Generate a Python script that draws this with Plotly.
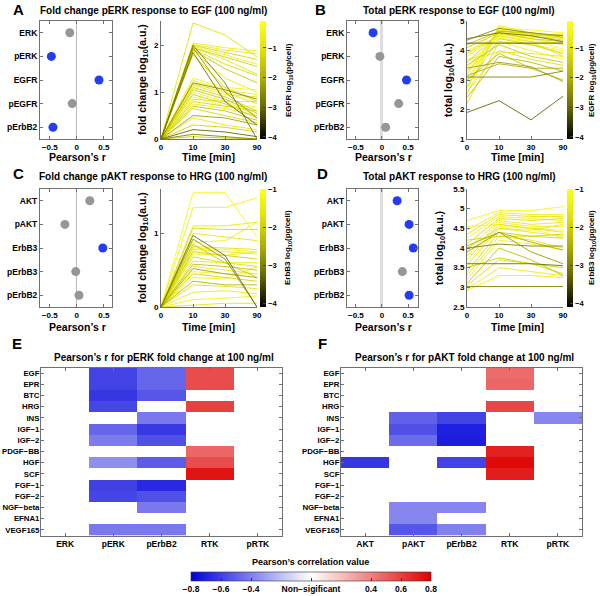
import plotly.graph_objects as go
import plotly.colors as pc

W, H = 600, 596
OFF = 0  # page margin is removed below, so figure pixels = page pixels
FONT = "Liberation Sans, Arial, sans-serif"

def fx(px):
    return (px - OFF) / W

def fy(py):
    return 1 - (py - OFF) / H

def tf(size=9, color="black"):
    return dict(family=FONT, size=size, color=color, weight="bold")

# ---------------- data ----------------
TIMES = ["0", "10", "30", "90"]

# Panel A: fold change pERK / EGF
A_labels = ["ERK", "pERK", "EGFR", "pEGFR", "pErbB2"]
A_r = [-0.13, -0.47, 0.41, -0.085, -0.44]
A_sig = [False, True, True, False, True]
A_lines = [
    [0, 2.48, 2.22, 1.75], [0, 2.05, 1.95, 1.88], [0, 2.02, 1.9, 1.82], [0, 2.0, 1.85, 1.7],
    [0, 1.98, 1.8, 1.6], [0, 1.95, 1.75, 1.55], [0, 1.95, 1.7, 1.38], [0, 1.92, 1.6, 1.35],
    [0, 1.9, 1.5, 1.2], [0, 1.88, 1.3, 1.0], [0, 2.0, 1.2, 0.0], [0, 1.95, 1.0, 0.45],
    [0, 1.85, 0.8, 0.3], [0, 1.8, 1.1, 0.8], [0, 1.3, 1.1, 1.05], [0, 1.25, 1.05, 0.95],
    [0, 1.2, 1.05, 0.85], [0, 1.18, 1.0, 0.75], [0, 1.15, 0.95, 0.9], [0, 1.1, 0.9, 0.6],
    [0, 1.05, 0.85, 0.55], [0, 1.0, 0.8, 0.5], [0, 0.95, 0.75, 0.45], [0, 0.9, 0.7, 0.7],
    [0, 0.85, 0.8, 0.8], [0, 0.8, 0.7, 0.6], [0, 0.75, 0.65, 0.5], [0, 0.7, 0.6, 0.4],
    [0, 0.65, 0.5, 0.35], [0, 0.5, 0.45, 0.3], [0, 0.45, 0.3, 0.2], [0, 0.3, 0.25, 0.15],
    [0, 0.2, 0.15, 0.05], [0, 0.1, 0.05, 0.0], [0, 0.05, 0.02, 0.0],
]
A_level = [-1.0, -0.6, -0.8, -1.2, -0.5, -1.3, -0.9, -1.1, -1.6, -0.7, -2.8, -2.3,
           -2.9, -1.2, -0.4, -0.6, -2.5, -1.0, -0.8, -1.3, -1.5, -0.5, -1.4, -0.3,
           -0.9, -1.2, -0.7, -1.6, -1.2, -2.2, -0.8, -1.3, -3.0, -2.6, -1.5]

# Panel B: total pERK / EGF
B_labels = ["ERK", "pERK", "EGFR", "pEGFR", "pErbB2"]
B_r = [-0.17, -0.04, 0.47, 0.32, 0.07]
B_sig = [True, False, True, False, False]
B_lines = [
    [1.9, 2.3, 1.65, 2.45], [4.25, 4.25, 4.25, 4.25], [4.4, 4.6, 4.5, 4.3], [4.35, 4.75, 4.6, 4.5],
    [3.1, 3.1, 3.1, 3.3], [3.4, 3.6, 3.45, 2.95], [3.0, 3.9, 3.4, 3.0], [2.5, 4.85, 4.6, 4.4],
    [2.7, 4.8, 4.55, 4.5], [2.9, 4.75, 4.7, 4.6], [3.2, 4.7, 4.5, 4.55], [3.4, 4.65, 4.55, 4.4],
    [3.6, 4.6, 4.5, 4.35], [3.8, 4.55, 4.4, 4.2], [3.9, 4.5, 4.3, 3.8], [4.0, 4.45, 4.2, 4.0],
    [4.1, 4.6, 4.4, 4.3], [2.8, 4.4, 4.2, 3.9], [3.3, 4.3, 4.0, 3.7], [3.5, 4.2, 3.8, 3.6],
    [2.6, 4.0, 3.7, 3.5], [3.7, 3.95, 3.9, 3.8], [2.4, 3.8, 3.6, 3.3], [3.15, 3.55, 3.4, 3.4],
    [3.3, 4.5, 4.35, 4.05], [3.05, 4.55, 4.45, 4.45], [4.2, 4.65, 4.6, 4.45], [2.2, 4.3, 4.2, 3.9],
    [3.6, 4.4, 4.3, 4.25], [3.9, 4.7, 4.55, 4.5],
]
B_level = [-3.0, -3.3, -2.8, -2.5, -2.6, -2.2, -1.6, -0.5, -0.8, -0.3, -1.0, -0.7,
           -1.2, -0.6, -0.9, -0.4, -1.4, -1.1, -0.5, -1.5, -1.0, -0.8, -1.8, -2.0,
           -0.2, -0.6, -1.7, -0.9, -0.4, -0.3]

# Panel C: fold change pAKT / HRG
C_labels = ["AKT", "pAKT", "ErbB3", "pErbB3", "pErbB2"]
C_r = [0.24, -0.22, 0.48, -0.02, 0.04]
C_sig = [False, False, True, False, False]
C_lines = [
    [0, 1.55, 1.55, 0.95], [0, 1.35, 1.35, 1.48], [0, 1.1, 1.1, 1.15], [0, 1.07, 1.05, 1.05],
    [0, 1.0, 0.95, 0.9], [0, 0.97, 0.7, 0.0], [0, 0.92, 0.65, 0.0], [0, 0.88, 0.9, 1.15],
    [0, 0.82, 0.8, 0.78], [0, 0.8, 0.78, 0.75], [0, 0.78, 0.75, 0.72], [0, 0.75, 0.7, 0.65],
    [0, 0.72, 0.7, 0.75], [0, 0.68, 0.6, 0.55], [0, 0.62, 0.6, 0.6], [0, 0.58, 0.55, 0.5],
    [0, 0.55, 0.5, 0.45], [0, 0.52, 0.45, 0.4], [0, 0.48, 0.45, 0.45], [0, 0.45, 0.4, 0.35],
    [0, 0.4, 0.38, 0.55], [0, 0.35, 0.3, 0.3], [0, 0.3, 0.28, 0.25], [0, 0.2, 0.22, 0.18],
    [0, 0.1, 0.12, 0.15], [0, 0.03, 0.05, 0.05], [0, 0.85, 0.6, 0.4],
]
C_level = [-1.2, -1.3, -1.5, -1.8, -1.6, -3.2, -2.8, -1.4, -1.7, -1.3, -1.5, -2.0,
           -1.4, -1.8, -1.6, -2.2, -1.5, -2.6, -1.3, -1.9, -1.4, -2.4, -1.7, -1.5,
           -1.3, -1.6, -2.1]

# Panel D: total pAKT / HRG
D_labels = ["AKT", "pAKT", "ErbB3", "pErbB3", "pErbB2"]
D_r = [0.29, 0.52, 0.6, 0.39, 0.52]
D_sig = [True, True, True, False, True]
D_lines = [
    [3.02, 3.02, 3.02, 3.02], [3.6, 3.6, 3.6, 3.55], [4.0, 4.1, 4.05, 4.05], [4.05, 4.4, 4.15, 3.95],
    [4.7, 4.95, 4.95, 5.05], [4.45, 4.9, 4.85, 4.85], [4.35, 4.85, 4.8, 4.8], [4.25, 4.8, 4.75, 4.7],
    [4.1, 4.75, 4.7, 4.75], [3.95, 4.7, 4.6, 4.65], [3.8, 4.65, 4.55, 4.55], [3.7, 4.6, 4.5, 4.4],
    [3.55, 4.5, 4.4, 4.3], [3.4, 4.4, 4.3, 4.25], [3.3, 4.3, 4.2, 4.0], [3.2, 4.2, 4.1, 3.95],
    [3.1, 4.0, 3.7, 3.3], [3.05, 3.7, 3.6, 3.35], [2.95, 3.5, 3.4, 3.3], [2.92, 3.3, 3.3, 3.25],
    [4.2, 4.3, 4.3, 4.35], [4.55, 4.6, 4.5, 4.25], [3.9, 4.4, 3.9, 3.6], [3.5, 3.75, 3.6, 3.5],
    [4.0, 4.5, 4.45, 4.6], [3.6, 4.55, 4.5, 4.45],
]
D_level = [-3.0, -3.2, -3.0, -2.5, -1.2, -1.4, -1.6, -1.3, -1.8, -1.5, -1.4, -1.7,
           -1.5, -1.9, -1.6, -1.3, -2.2, -1.8, -1.5, -1.4, -1.9, -1.2, -2.7, -2.0,
           -1.6, -1.1]

# Heatmaps
HM_rows = ["EGF", "EPR", "BTC", "HRG", "INS", "IGF\u22121", "IGF\u22122", "PDGF\u2212BB", "HGF",
           "SCF", "FGF\u22121", "FGF\u22122", "NGF\u2212beta", "EFNA1", "VEGF165"]
E_cols = ["ERK", "pERK", "pErbB2", "RTK", "pRTK"]
F_cols = ["AKT", "pAKT", "pErbB2", "RTK", "pRTK"]
N = None
E_vals = [
    [N, -0.59, -0.48, 0.56, N],
    [N, -0.59, -0.48, 0.56, N],
    [N, -0.63, -0.53, N, N],
    [N, -0.58, N, 0.60, N],
    [N, N, -0.42, N, N],
    [N, -0.48, -0.62, N, N],
    [N, -0.41, -0.55, N, N],
    [N, N, N, 0.48, N],
    [N, -0.35, -0.51, 0.56, N],
    [N, N, N, 0.74, N],
    [N, -0.60, -0.67, N, N],
    [N, -0.58, -0.55, N, N],
    [N, N, -0.42, N, N],
    [N, N, N, N, N],
    [N, -0.42, -0.42, N, N],
]
F_vals = [
    [N, N, N, 0.46, N],
    [N, N, N, 0.48, N],
    [N, N, N, N, N],
    [N, N, N, 0.58, N],
    [N, -0.50, -0.59, N, -0.38],
    [N, -0.55, -0.70, N, N],
    [N, -0.46, -0.71, N, N],
    [N, N, N, 0.70, N],
    [-0.63, N, -0.59, 0.77, N],
    [N, N, N, 0.71, N],
    [N, N, N, N, N],
    [N, N, N, N, N],
    [N, -0.38, -0.38, N, N],
    [N, -0.38, N, N, N],
    [N, -0.53, -0.40, N, N],
]

CB_ticks = [-0.8, -0.6, -0.4, 0, 0.4, 0.6, 0.8]
CB_text = ["\u22120.8", "\u22120.6", "\u22120.4", "Non\u2212sigificant", "0.4", "0.6", "0.8"]

# ---------------- styling ----------------
LINE_CS = [[0, "rgb(0,0,0)"], [0.27, "rgb(105,105,0)"], [0.52, "rgb(175,175,0)"],
           [0.78, "rgb(228,228,10)"], [1, "rgb(255,255,30)"]]
HM_CS = [[0, "rgb(0,0,220)"], [0.5, "rgb(255,255,255)"], [1, "rgb(222,0,0)"]]
BLUE = "rgb(35,60,245)"
GRAY = "rgb(150,150,150)"
AX_COL = "#707070"

fig = go.Figure()
layout = dict(width=W, height=H, margin=dict(l=0, r=0, t=0, b=0, autoexpand=False),
              paper_bgcolor="white", plot_bgcolor="white", showlegend=False,
              font=dict(family=FONT, size=9, color="black"))
annotations = []

def ann(text, x, y, size=9, angle=0, xanchor="center"):
    annotations.append(dict(text=text, x=fx(x), y=fy(y), xref="paper", yref="paper",
                            showarrow=False, textangle=angle, xanchor=xanchor,
                            yanchor="middle", font=tf(size)))

def axname(n):
    return "" if n == 1 else str(n)

def dot_panel(n, box, xr, labels, rvals, sig, zwidth, zcol):
    x0, x1, y0, y1 = box
    k = axname(n)
    layout["xaxis" + k] = dict(domain=[fx(x0), fx(x1)], range=xr, anchor="y" + k,
                               tickvals=[-0.5, 0, 0.5], ticktext=["\u22120.5", "0", "0.5"],
                               zeroline=True, zerolinecolor=zcol, zerolinewidth=zwidth,
                               showgrid=False, showline=True, linecolor=AX_COL, linewidth=1,
                               mirror="ticks", ticks="inside", ticklen=3, tickcolor=AX_COL,
                               tickfont=tf(8))
    layout["yaxis" + k] = dict(domain=[fy(y1), fy(y0)], range=[4.5, -0.5], anchor="x" + k,
                               type="category", categoryorder="array", categoryarray=labels,
                               showgrid=False, showline=True, linecolor=AX_COL, linewidth=1,
                               mirror="ticks", ticks="inside", ticklen=3, tickcolor=AX_COL,
                               tickfont=tf(8.5))
    fig.add_trace(go.Scatter(x=rvals, y=labels, mode="markers", xaxis="x" + k, yaxis="y" + k,
                             marker=dict(size=9, color=[BLUE if s else GRAY for s in sig]),
                             hoverinfo="skip"))

def line_panel(n, box, yr, ytv, lines, levels, cmin, cmax, cbx):
    x0, x1, y0, y1 = box
    k = axname(n)
    layout["xaxis" + k] = dict(domain=[fx(x0), fx(x1)], type="category", categoryorder="array",
                               categoryarray=TIMES, range=[0, 3], anchor="y" + k,
                               showgrid=False, showline=True, linecolor=AX_COL, linewidth=1,
                               ticks="inside", ticklen=3, tickcolor=AX_COL, tickfont=tf(8))
    layout["yaxis" + k] = dict(domain=[fy(y1), fy(y0)], range=yr, tickvals=ytv, anchor="x" + k,
                               showgrid=False, zeroline=False, showline=True, linecolor=AX_COL,
                               linewidth=1, ticks="inside", ticklen=3, tickcolor=AX_COL,
                               tickfont=tf(8))
    order = sorted(range(len(lines)), key=lambda i: -levels[i])
    for i in order:
        frac = (levels[i] - cmin) / (cmax - cmin)
        col = pc.sample_colorscale(LINE_CS, [min(max(frac, 0), 1)])[0]
        fig.add_trace(go.Scatter(x=TIMES, y=lines[i], mode="lines", xaxis="x" + k, yaxis="y" + k,
                                 line=dict(color=col, width=0.9), hoverinfo="skip"))
    fig.add_trace(go.Scatter(x=[None], y=[None], mode="markers", xaxis="x" + k, yaxis="y" + k,
                             hoverinfo="skip",
                             marker=dict(color=[cmin], colorscale=LINE_CS, cmin=cmin, cmax=cmax,
                                         showscale=True,
                                         colorbar=dict(x=fx(cbx), xanchor="left", y=fy(y0),
                                                       yanchor="top", len=(y1 - y0) / H,
                                                       lenmode="fraction", thickness=6,
                                                       outlinewidth=0, xpad=0, ypad=0,
                                                       tickvals=[-1, -2, -3, -4],
                                                       ticks="inside", ticklen=3,
                                                       tickcolor="#444", tickfont=tf(7.5)))))

def heat_panel(n, box, cols, vals, showscale):
    x0, x1, y0, y1 = box
    k = axname(n)
    layout["xaxis" + k] = dict(domain=[fx(x0), fx(x1)], anchor="y" + k, type="category",
                               showgrid=False, showline=True, linecolor=AX_COL, linewidth=1,
                               mirror="ticks", ticks="inside", ticklen=3, tickcolor=AX_COL,
                               tickfont=tf(8.5))
    layout["yaxis" + k] = dict(domain=[fy(y1), fy(y0)], anchor="x" + k, type="category",
                               autorange="reversed", showgrid=False, showline=True,
                               linecolor=AX_COL, linewidth=1, mirror="ticks", ticks="inside",
                               ticklen=3, tickcolor=AX_COL, tickfont=tf(7.8),
                               ticklabelstandoff=-1)
    tr = go.Heatmap(z=vals, x=cols, y=HM_rows, xaxis="x" + k, yaxis="y" + k, zmin=-0.8, zmax=0.8,
                    colorscale=HM_CS, showscale=showscale, hoverinfo="skip")
    if showscale:
        tr.colorbar = dict(orientation="h", x=fx(311), xanchor="center", y=fy(572),
                           yanchor="top", len=240 / W, lenmode="fraction", thickness=9,
                           outlinewidth=0.6, outlinecolor="#333", xpad=0, ypad=0,
                           tickvals=CB_ticks, ticktext=CB_text, ticks="inside", ticklen=3,
                           tickcolor="#333", tickfont=tf(8.5))
    fig.add_trace(tr)

# Panel A
dot_panel(1, (40, 112, 21, 139), [-0.68, 0.65], A_labels, A_r, A_sig, 1, "#bbbbbb")
line_panel(2, (161, 257, 21, 139), [0, 2.52], [0, 1, 2], A_lines, A_level, -4.07, -0.09, 260)
# Panel B
dot_panel(3, (347, 418, 21, 139), [-0.67, 0.69], B_labels, B_r, B_sig, 3, "#dddddd")
line_panel(4, (467, 563, 21, 139), [1, 5], [1, 2, 3, 4, 5], B_lines, B_level, -4.07, -0.09, 567)
# Panel C
dot_panel(5, (40, 112, 189, 307), [-0.68, 0.65], C_labels, C_r, C_sig, 1, "#bbbbbb")
line_panel(6, (161, 257, 189, 307), [0, 1.6], [0, 1], C_lines, C_level, -4.1, -1.0, 260)
# Panel D
dot_panel(7, (347, 418, 189, 307), [-0.67, 0.69], D_labels, D_r, D_sig, 3, "#dddddd")
line_panel(8, (467, 563, 189, 307), [2.5, 5.5], [2.5, 3, 3.5, 4, 4.5, 5, 5.5], D_lines, D_level,
           -4.1, -1.0, 567)
# Panels E, F
heat_panel(9, (41, 282, 367.5, 535.5), E_cols, E_vals, True)
heat_panel(10, (341, 582, 367.5, 535.5), F_cols, F_vals, False)

# Texts
ann("A", 18, 9, 15)
ann("Fold change pERK response to EGF (100 ng/ml)", 153, 10, 10)
ann("B", 320, 9, 15)
ann("Total pERK response to EGF (100 ng/ml)", 459, 10, 10)
ann("C", 18, 174, 15)
ann("Fold change pAKT response to HRG (100 ng/ml)", 153, 176, 10)
ann("D", 322, 174, 15)
ann("Total pAKT response to HRG (100 ng/ml)", 459, 176, 10)
ann("E", 17, 343, 15)
ann("Pearson\u2019s r for pERK fold change at 100 ng/ml", 164, 357, 10)
ann("F", 322, 343, 15)
ann("Pearson\u2019s r for pAKT fold change at 100 ng/ml", 464, 357, 10)

for (x, y) in [(77, 157), (383, 157), (77, 327), (383, 327)]:
    ann("Pearson\u2019s r", x, y, 10.5)
for (x, y) in [(208, 157), (517, 157), (208, 327), (517, 327)]:
    ann("Time [min]", x, y, 10.5)
ann("fold change log<sub>10</sub>(a.u.)", 143, 80, 10.5, -90)
ann("total log<sub>10</sub>(a.u.)", 449, 80, 10.5, -90)
ann("fold change log<sub>10</sub>(a.u.)", 143, 248, 10.5, -90)
ann("total log<sub>10</sub>(a.u.)", 440, 248, 10.5, -90)
ann("EGFR log<sub>10</sub>(pg/cell)", 289, 80, 8, -90)
ann("EGFR log<sub>10</sub>(pg/cell)", 592, 80, 8, -90)
ann("ErbB3 log<sub>10</sub>(pg/cell)", 288, 248, 8, -90)
ann("ErbB3 log<sub>10</sub>(pg/cell)", 592, 248, 8, -90)
ann("Pearson\u2019s correlation value", 310, 562, 9)

layout["annotations"] = annotations
fig.update_layout(**layout)
fig.write_html("out.html", config={"displayModeBar": False},
               post_script="document.body.style.margin='0px';")
